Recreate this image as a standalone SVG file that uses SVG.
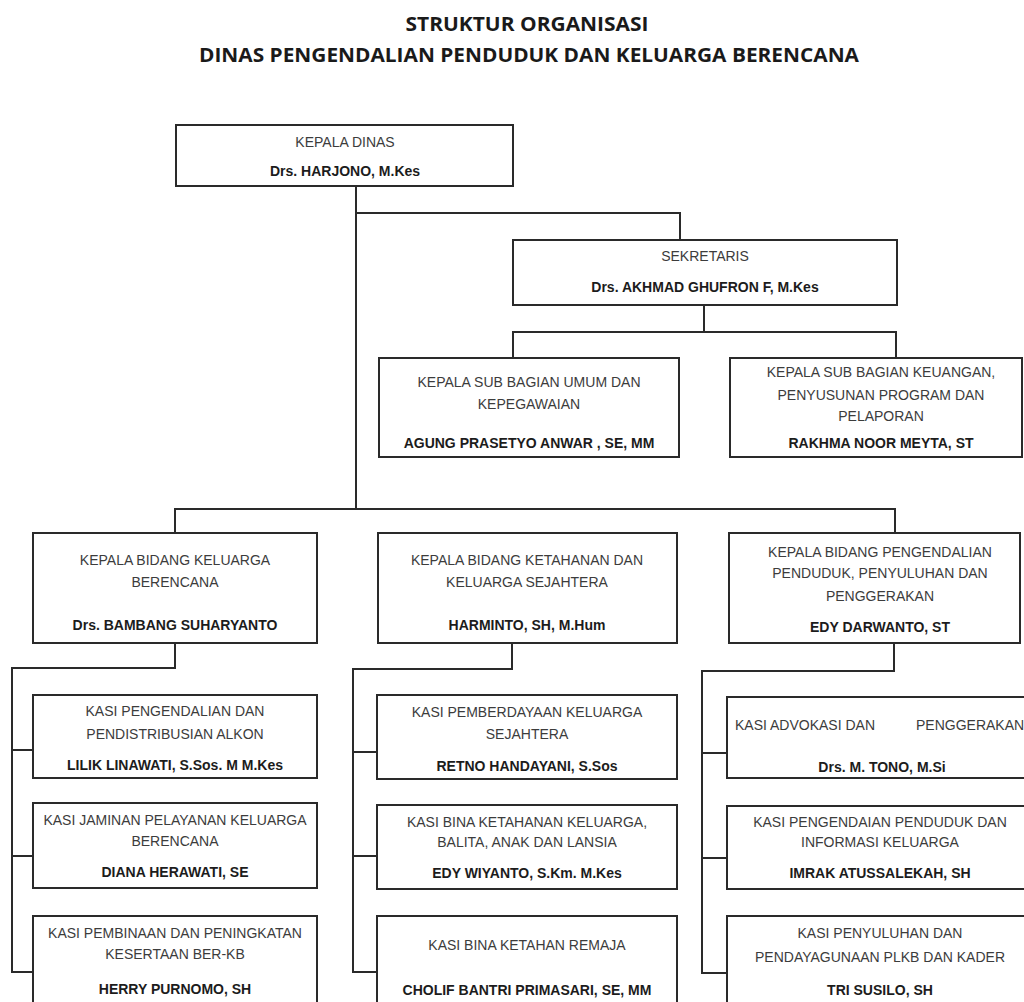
<svg xmlns="http://www.w3.org/2000/svg" width="1024" height="1002" viewBox="0 0 1024 1002">
<style>
.bg{fill:#ffffff}
.box{fill:#ffffff;stroke:#2a2a2a;stroke-width:2}
.ln{fill:none;stroke:#2a2a2a;stroke-width:2}
.t{font-family:"Liberation Sans",Arial,sans-serif;font-size:14px;fill:#3c3c3c;text-anchor:middle}
.n{font-family:"Liberation Sans",Arial,sans-serif;font-size:14px;font-weight:bold;fill:#1c1c1c;text-anchor:middle}
.h{font-family:"Open Sans","Liberation Sans",sans-serif;font-size:20px;font-weight:bold;fill:#1a1a1a;text-anchor:middle}
</style>
<rect class="bg" x="0" y="0" width="1024" height="1002"/>
<g id="title">
<text class="h" x="527" y="31" textLength="243" lengthAdjust="spacingAndGlyphs">STRUKTUR ORGANISASI</text>
<text class="h" x="529" y="62" textLength="660" lengthAdjust="spacingAndGlyphs">DINAS PENGENDALIAN PENDUDUK DAN KELUARGA BERENCANA</text>
</g>
<g id="connectors">
<path class="ln" d="M356 186 V509"/>
<path class="ln" d="M356 213 H680 V240"/>
<path class="ln" d="M704 305 V332"/>
<path class="ln" d="M513 358 V332 H896 V358"/>
<path class="ln" d="M175 533 V509 H895 V533"/>
<path class="ln" d="M175 643 V668 H12 V972 H33 M12 750 H33 M12 856 H33"/>
<path class="ln" d="M512 643 V669 H353 V972 H377 M353 752 H377 M353 856 H377"/>
<path class="ln" d="M894 643 V671 H702 V973 H727 M702 753 H727 M702 858 H727"/>
</g>
<g id="kepala-dinas">
<rect class="box" x="176" y="125" width="337" height="61"/>
<text class="t" x="345" y="147">KEPALA DINAS</text>
<text class="n" x="345" y="176">Drs. HARJONO, M.Kes</text>
</g>
<g id="sekretaris">
<rect class="box" x="513" y="240" width="384" height="65"/>
<text class="t" x="705" y="261">SEKRETARIS</text>
<text class="n" x="705" y="292">Drs. AKHMAD GHUFRON F, M.Kes</text>
</g>
<g id="subbag-umum">
<rect class="box" x="379" y="358" width="300" height="99"/>
<text class="t" x="529" y="387">KEPALA SUB BAGIAN UMUM DAN</text>
<text class="t" x="529" y="409">KEPEGAWAIAN</text>
<text class="n" x="529" y="448">AGUNG PRASETYO ANWAR , SE, MM</text>
</g>
<g id="subbag-keuangan">
<rect class="box" x="730" y="358" width="292" height="99"/>
<text class="t" x="881" y="377">KEPALA SUB BAGIAN KEUANGAN,</text>
<text class="t" x="881" y="400">PENYUSUNAN PROGRAM DAN</text>
<text class="t" x="881" y="421">PELAPORAN</text>
<text class="n" x="881" y="448">RAKHMA NOOR MEYTA, ST</text>
</g>
<g id="bidang-kb">
<rect class="box" x="33" y="533" width="284" height="110"/>
<text class="t" x="175" y="565">KEPALA BIDANG KELUARGA</text>
<text class="t" x="175" y="587">BERENCANA</text>
<text class="n" x="175" y="630">Drs. BAMBANG SUHARYANTO</text>
</g>
<g id="bidang-ketahanan">
<rect class="box" x="378" y="533" width="299" height="110"/>
<text class="t" x="527" y="565">KEPALA BIDANG KETAHANAN DAN</text>
<text class="t" x="527" y="587">KELUARGA SEJAHTERA</text>
<text class="n" x="527" y="630">HARMINTO, SH, M.Hum</text>
</g>
<g id="bidang-pengendalian">
<rect class="box" x="729" y="533" width="291" height="110"/>
<text class="t" x="880" y="557">KEPALA BIDANG PENGENDALIAN</text>
<text class="t" x="880" y="578">PENDUDUK, PENYULUHAN DAN</text>
<text class="t" x="880" y="601">PENGGERAKAN</text>
<text class="n" x="880" y="632">EDY DARWANTO, ST</text>
</g>
<g id="kasi-alkon">
<rect class="box" x="33" y="695" width="284" height="83"/>
<text class="t" x="175" y="716">KASI PENGENDALIAN DAN</text>
<text class="t" x="175" y="739">PENDISTRIBUSIAN ALKON</text>
<text class="n" x="175" y="770">LILIK LINAWATI, S.Sos. M M.Kes</text>
</g>
<g id="kasi-jaminan">
<rect class="box" x="33" y="803" width="284" height="85"/>
<text class="t" x="175" y="825">KASI JAMINAN PELAYANAN KELUARGA</text>
<text class="t" x="175" y="846">BERENCANA</text>
<text class="n" x="175" y="877">DIANA HERAWATI, SE</text>
</g>
<g id="kasi-pembinaan">
<rect class="box" x="33" y="916" width="284" height="100"/>
<text class="t" x="175" y="938">KASI PEMBINAAN DAN PENINGKATAN</text>
<text class="t" x="175" y="959">KESERTAAN BER-KB</text>
<text class="n" x="175" y="994">HERRY PURNOMO, SH</text>
</g>
<g id="kasi-pemberdayaan">
<rect class="box" x="377" y="695" width="300" height="84"/>
<text class="t" x="527" y="717">KASI PEMBERDAYAAN KELUARGA</text>
<text class="t" x="527" y="739">SEJAHTERA</text>
<text class="n" x="527" y="771">RETNO HANDAYANI, S.Sos</text>
</g>
<g id="kasi-bina-ketahanan">
<rect class="box" x="377" y="805" width="300" height="84"/>
<text class="t" x="527" y="827">KASI BINA KETAHANAN KELUARGA,</text>
<text class="t" x="527" y="847">BALITA, ANAK DAN LANSIA</text>
<text class="n" x="527" y="878">EDY WIYANTO, S.Km. M.Kes</text>
</g>
<g id="kasi-remaja">
<rect class="box" x="377" y="916" width="300" height="100"/>
<text class="t" x="527" y="950">KASI BINA KETAHAN REMAJA</text>
<text class="n" x="527" y="995">CHOLIF BANTRI PRIMASARI, SE, MM</text>
</g>
<g id="kasi-advokasi">
<rect class="box" x="727" y="697" width="310" height="81"/>
<text class="t" style="text-anchor:start" x="735" y="730">KASI ADVOKASI DAN<tspan x="916">PENGGERAKAN</tspan></text>
<text class="n" x="882" y="772">Drs. M. TONO, M.Si</text>
</g>
<g id="kasi-informasi">
<rect class="box" x="727" y="806" width="310" height="83"/>
<text class="t" x="880" y="827">KASI PENGENDAIAN PENDUDUK DAN</text>
<text class="t" x="880" y="847">INFORMASI KELUARGA</text>
<text class="n" x="880" y="878">IMRAK ATUSSALEKAH, SH</text>
</g>
<g id="kasi-penyuluhan">
<rect class="box" x="727" y="916" width="310" height="100"/>
<text class="t" x="880" y="938">KASI PENYULUHAN DAN</text>
<text class="t" x="880" y="962">PENDAYAGUNAAN PLKB DAN KADER</text>
<text class="n" x="880" y="995">TRI SUSILO, SH</text>
</g>
</svg>
